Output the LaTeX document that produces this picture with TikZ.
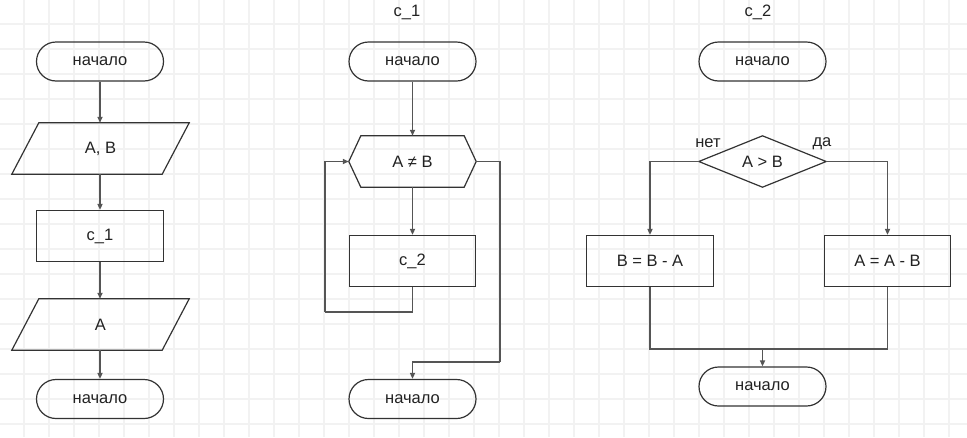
\documentclass[tikz,border=0pt]{standalone}
\usepackage{fontspec}
\setmainfont{Liberation Sans}
\usetikzlibrary{arrows.meta}
\definecolor{gridc}{HTML}{F2F2F2}
\definecolor{linec}{HTML}{555555}
\definecolor{boxc}{HTML}{333333}
\definecolor{txtc}{HTML}{222222}
\begin{document}
\begin{tikzpicture}[x=1pt,y=-1pt,
  font=\fontsize{16.5}{19}\selectfont, text=txtc,
  gridline/.style={draw=gridc, line width=1.5pt},
  term/.style={draw=boxc, line width=1.2pt, rectangle, rounded corners=19.5pt, minimum width=127pt, minimum height=39pt, inner sep=0pt},
  proc/.style={draw=boxc, line width=1.2pt, rectangle, minimum width=127pt, minimum height=51pt, inner sep=0pt},
  ghost/.style={rectangle, minimum width=127pt, minimum height=51pt, inner sep=0pt},
  shapeline/.style={draw=boxc, line width=1.2pt, line join=miter},
  conn/.style={draw=linec, line width=1.5pt},
  arr/.style={conn, -{Triangle[length=6pt,width=5pt]}},
  lbl/.style={inner sep=0pt}
]
\useasboundingbox (0,0) rectangle (967,437);
\fill[white] (0,0) rectangle (967,437);
% grid
\foreach \i in {0,...,37} \draw[gridline] (24+25*\i,0) -- (24+25*\i,437);
\foreach \j in {0,...,16} \draw[gridline] (0,24+25*\j) -- (967,24+25*\j);

% ---------- column 1 ----------
\node[term] (t1) at (100,61.5) {начало};
\node[ghost, minimum width=150pt] (p1) at (100.5,148.5) {A, B};
\draw[shapeline] ([xshift=13.5pt]p1.north west) -- ([xshift=13.5pt]p1.north east) -- ([xshift=-13.5pt]p1.south east) -- ([xshift=-13.5pt]p1.south west) -- cycle;
\node[proc] (c1) at (100,236) {c\_1};
\node[ghost, minimum width=150pt] (p2) at (100.5,324.5) {A};
\draw[shapeline] ([xshift=13.5pt]p2.north west) -- ([xshift=13.5pt]p2.north east) -- ([xshift=-13.5pt]p2.south east) -- ([xshift=-13.5pt]p2.south west) -- cycle;
\node[term] (t1b) at (100,399) {начало};
\draw[arr] (t1.south) -- (t1.south |- p1.north);
\draw[arr] (p1.south -| c1.north) -- (c1.north);
\draw[arr] (c1.south) -- (c1.south |- p2.north);
\draw[arr] (p2.south -| t1b.north) -- (t1b.north);

% ---------- column 2 ----------
\node[lbl] (h1) at (407,12) {c\_1};
\node[term] (t2) at (412.5,61.5) {начало};
\node[ghost] (hx) at (412.5,161.5) {A ≠ B};
\draw[shapeline] ([xshift=12pt]hx.north west) -- ([xshift=-12pt]hx.north east) -- (hx.east) -- ([xshift=-12pt]hx.south east) -- ([xshift=12pt]hx.south west) -- (hx.west) -- cycle;
\node[proc, minimum width=126pt] (c2) at (412.5,261) {c\_2};
\node[term] (t2b) at (412.5,399) {начало};
\coordinate (lp) at (325,312);
\coordinate (ex) at (500,362);
\draw[arr] (t2.south) -- (hx.north);
\draw[arr] (hx.south) -- (c2.north);
\draw[conn] (c2.south) |- (lp);
\draw[arr] (lp) |- (hx.west);
\draw[conn] (hx.east) -| (ex);
\draw[arr] (ex) -| (t2b.north);

% ---------- column 3 ----------
\node[lbl] (h2) at (758,12) {c\_2};
\node[term] (t3) at (762.5,61.5) {начало};
\node[ghost] (dm) at (762.5,161.5) {A > B};
\draw[shapeline] (dm.north) -- (dm.east) -- (dm.south) -- (dm.west) -- cycle;
\node[lbl] (no) at (708,143.5) {нет};
\node[lbl] (yes) at (822,143.5) {да};
\node[proc] (r1) at (650,261) {B = B - A};
\node[proc, minimum width=126pt] (r2) at (887.5,261) {A = A - B};
\node[term] (t3b) at (762.5,386.5) {начало};
\coordinate (mg) at (762.5,349);
\draw[arr] (dm.west) -| (r1.north);
\draw[arr] (dm.east) -| (r2.north);
\draw[conn] (r1.south) |- (mg);
\draw[conn] (r2.south) |- (mg);
\draw[arr] (mg) -- (t3b.north);
\end{tikzpicture}
\end{document}
